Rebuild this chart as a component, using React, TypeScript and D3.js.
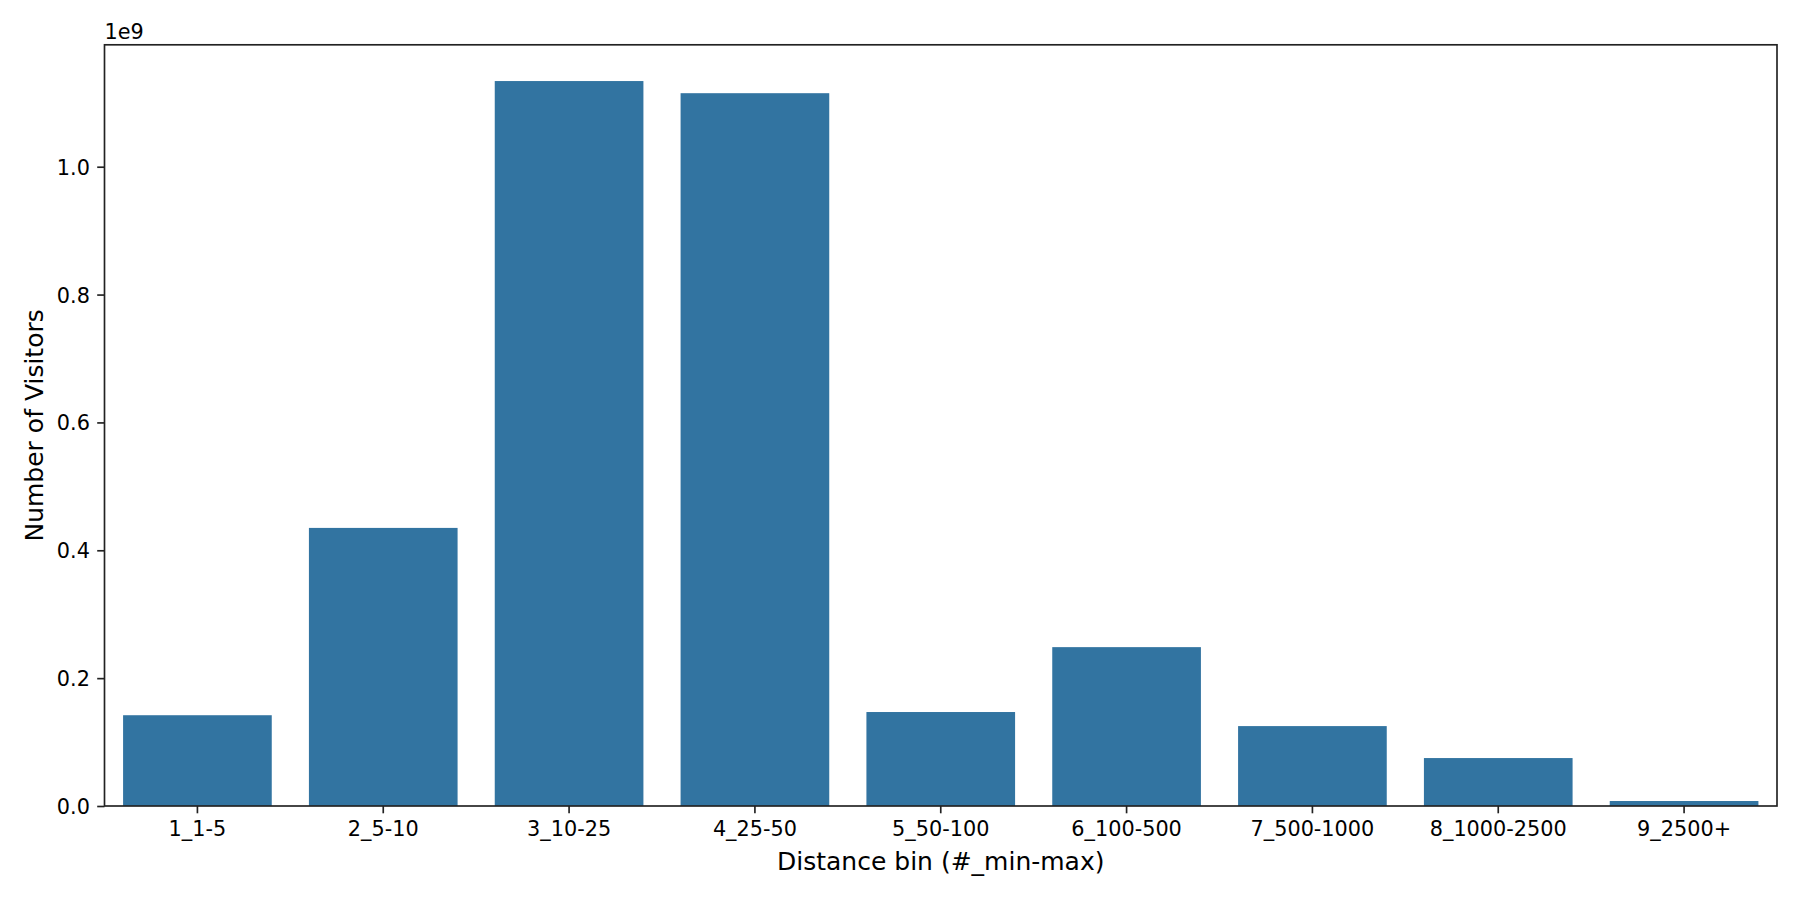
import * as React from "react"
import * as d3 from "d3"

const categories = [
  "1_1-5",
  "2_5-10",
  "3_10-25",
  "4_25-50",
  "5_50-100",
  "6_100-500",
  "7_500-1000",
  "8_1000-2500",
  "9_2500+",
]

const visitors = [
  142e6, 435e6, 1134e6, 1115e6, 147e6, 248.5e6, 125e6, 75e6, 7.8e6,
]

const yTicks = [0, 0.2e9, 0.4e9, 0.6e9, 0.8e9, 1.0e9]

const xLabel = "Distance bin (#_min-max)"
const yLabel = "Number of Visitors"
const offsetLabel = "1e9"

type Row = { name: string; value: number }

const rows: Row[] = categories.map((name, i) => ({ name, value: visitors[i] }))

export default function App() {
  const svgRef = React.useRef<SVGSVGElement>(null)

  const width = 1800
  const height = 900
  const margin = { top: 44.8, right: 23, bottom: 94, left: 104.5 }

  React.useEffect(() => {
    if (!svgRef.current) return
    const svg = d3.select(svgRef.current)
    svg.selectAll("*").remove()

    const innerWidth = width - margin.left - margin.right
    const innerHeight = height - margin.top - margin.bottom
    const font = "'DejaVu Sans', sans-serif"
    const ink = "#222"
    const textInk = "#000"
    const tickLen = 7.3
    const tickPad = 7.3

    // seaborn-style bars: 80% of each slot, no outer margin
    const x = d3
      .scaleBand()
      .domain(categories)
      .range([0, innerWidth])
      .paddingInner(0.2)
      .paddingOuter(0.1)

    const y = d3
      .scaleLinear()
      .domain([0, (d3.max(visitors) || 0) * 1.05])
      .range([innerHeight, 0])

    const g = svg
      .append("g")
      .attr("transform", `translate(${margin.left},${margin.top})`)

    // bars
    g.selectAll(".bar")
      .data(rows)
      .enter()
      .append("rect")
      .attr("class", "bar")
      .attr("x", (d) => x(d.name) || 0)
      .attr("y", (d) => y(d.value))
      .attr("width", x.bandwidth())
      .attr("height", (d) => innerHeight - y(d.value))
      .attr("fill", "#3274a1")

    // x axis
    const xAxis = g
      .append("g")
      .attr("transform", `translate(0,${innerHeight})`)
      .call(d3.axisBottom(x).tickSize(tickLen).tickPadding(tickPad).tickSizeOuter(0))
    xAxis.select(".domain").remove()
    xAxis.selectAll(".tick line").attr("stroke", ink).attr("stroke-width", 1.67)
    xAxis
      .selectAll(".tick text")
      .attr("fill", textInk)
      .attr("dy", "0.76em")
      .style("font-family", font)
      .style("font-size", "20.8px")

    // y axis
    const yAxis = g
      .append("g")
      .call(
        d3
          .axisLeft(y)
          .tickValues(yTicks)
          .tickSize(tickLen)
          .tickPadding(tickPad)
          .tickFormat((v) => ((v as number) / 1e9).toFixed(1))
      )
    yAxis.select(".domain").remove()
    yAxis.selectAll(".tick line").attr("stroke", ink).attr("stroke-width", 1.67)
    yAxis
      .selectAll(".tick text")
      .attr("fill", textInk)
      .attr("dy", "0.36em")
      .style("font-family", font)
      .style("font-size", "20.8px")

    // frame
    g.append("rect")
      .attr("x", 0)
      .attr("y", 0)
      .attr("width", innerWidth)
      .attr("height", innerHeight)
      .attr("fill", "none")
      .attr("stroke", ink)
      .attr("stroke-width", 1.67)

    // offset text
    g.append("text")
      .attr("x", 0)
      .attr("y", -6)
      .attr("fill", textInk)
      .style("font-family", font)
      .style("font-size", "20.8px")
      .text(offsetLabel)

    // axis labels
    svg
      .append("text")
      .attr("x", margin.left + innerWidth / 2)
      .attr("y", 870)
      .attr("text-anchor", "middle")
      .attr("fill", textInk)
      .style("font-family", font)
      .style("font-size", "25px")
      .text(xLabel)

    svg
      .append("text")
      .attr("transform", `translate(43,${margin.top + innerHeight / 2}) rotate(-90)`)
      .attr("text-anchor", "middle")
      .attr("fill", textInk)
      .style("font-family", font)
      .style("font-size", "25px")
      .text(yLabel)

    return () => {
      svg.selectAll("*").remove()
    }
  }, [])

  return (
    <svg
      ref={svgRef}
      width={width}
      height={height}
      viewBox={`0 0 ${width} ${height}`}
      style={{ position: "absolute", left: 0, top: 0, background: "#fff" }}
    />
  )
}
